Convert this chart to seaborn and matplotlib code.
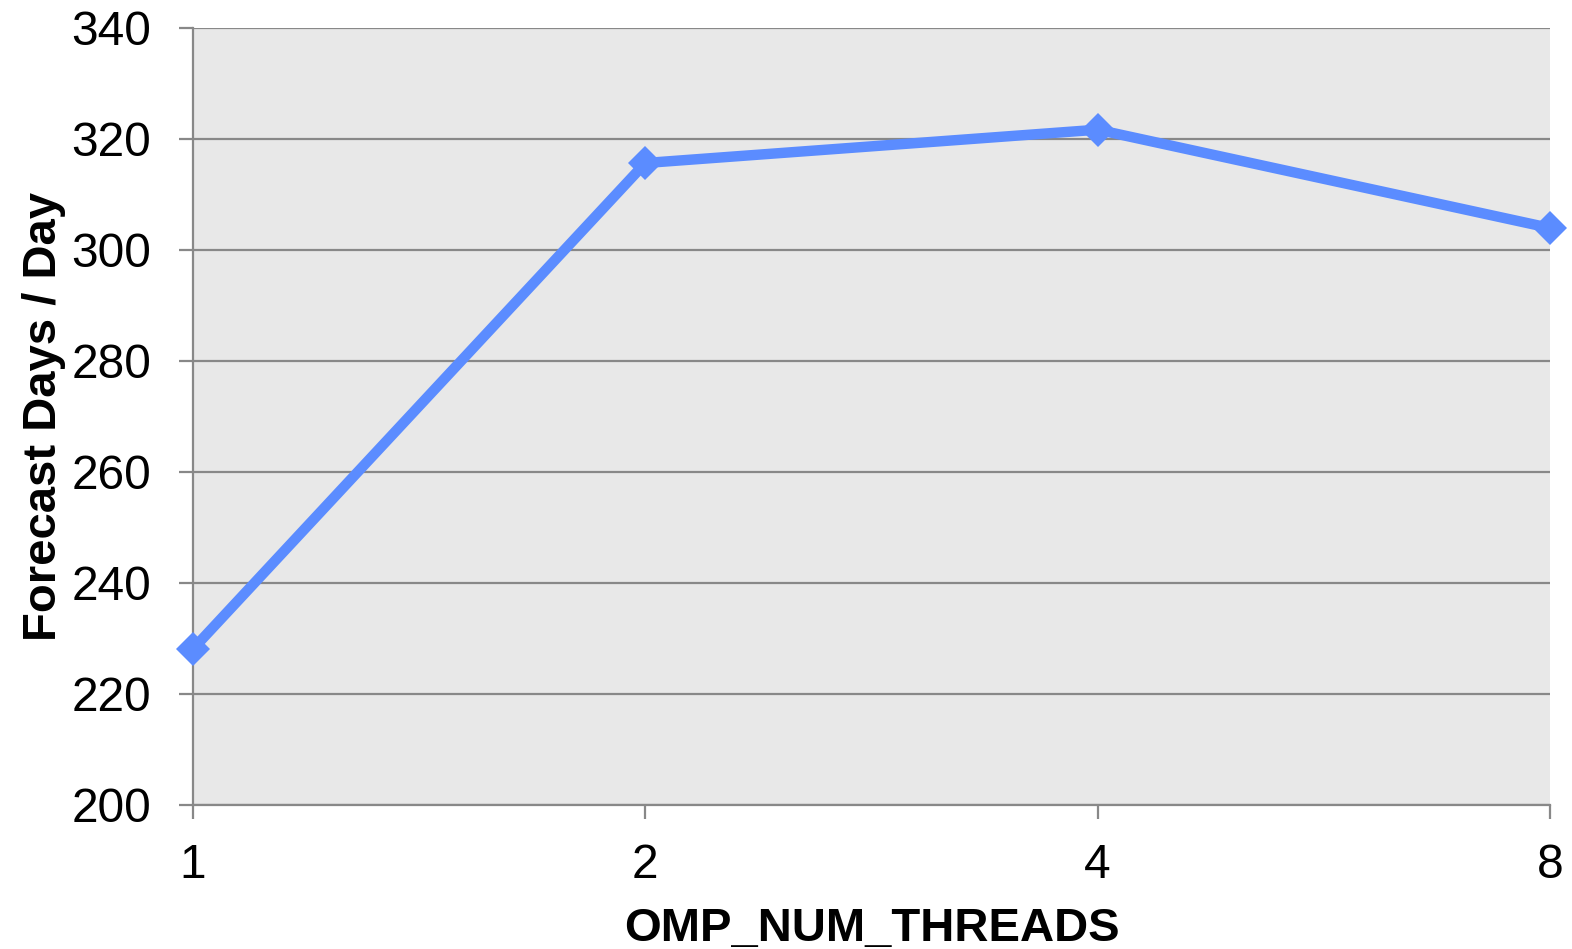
import matplotlib
matplotlib.use("Agg")
import matplotlib.pyplot as plt
import matplotlib.ticker as mticker
import seaborn as sns
import pandas as pd

threads = [1, 2, 4, 8]
forecast_days = [228.1, 315.6, 321.6, 303.9]
y_ticks = [200, 220, 240, 260, 280, 300, 320, 340]

sns.set_theme(style="white")
plt.rcParams['font.family'] = ['Liberation Sans', 'DejaVu Sans']

df = pd.DataFrame({"OMP_NUM_THREADS": threads, "Forecast Days / Day": forecast_days})

fig = plt.figure(figsize=(15.72, 9.49), dpi=100)
ax = fig.add_axes([193 / 1572, 1 - 805 / 949, (1550 - 193) / 1572, (805 - 27.5) / 949])
ax.set_facecolor("#E8E8E8")

sns.lineplot(data=df, x="OMP_NUM_THREADS", y="Forecast Days / Day", ax=ax,
             color="#5B8CFF", linewidth=7.5, marker="D", markersize=17,
             markeredgewidth=0, clip_on=False, zorder=5)

ax.set_xscale("log", base=2)
ax.set_xlim(1, 8)
ax.set_xticks(threads)
ax.xaxis.set_major_formatter(mticker.FixedFormatter([str(t) for t in threads]))
ax.xaxis.set_minor_locator(mticker.NullLocator())
ax.set_ylim(200, 340)
ax.set_yticks(y_ticks)
ax.set_yticklabels([str(v) for v in y_ticks])

grid_col = "#888888"
ax.grid(axis="y", color=grid_col, linewidth=1.6, zorder=0)
ax.set_axisbelow(True)
for s in ["top", "right"]:
    ax.spines[s].set_visible(False)
for s in ["left", "bottom"]:
    ax.spines[s].set_color(grid_col)
    ax.spines[s].set_linewidth(1.6)

ax.tick_params(axis="both", which="major", length=10, width=1.6, color=grid_col,
               labelsize=34.5, labelcolor="black", direction="out")
ax.tick_params(axis="y", pad=20, left=True)
ax.tick_params(axis="x", pad=17, bottom=True)

ax.set_xlabel("OMP_NUM_THREADS", fontsize=34, fontweight="bold", color="black", labelpad=14)
ax.set_ylabel("Forecast Days / Day", fontsize=34, fontweight="bold", color="black", labelpad=4)

fig.savefig("out.png", dpi=100)
